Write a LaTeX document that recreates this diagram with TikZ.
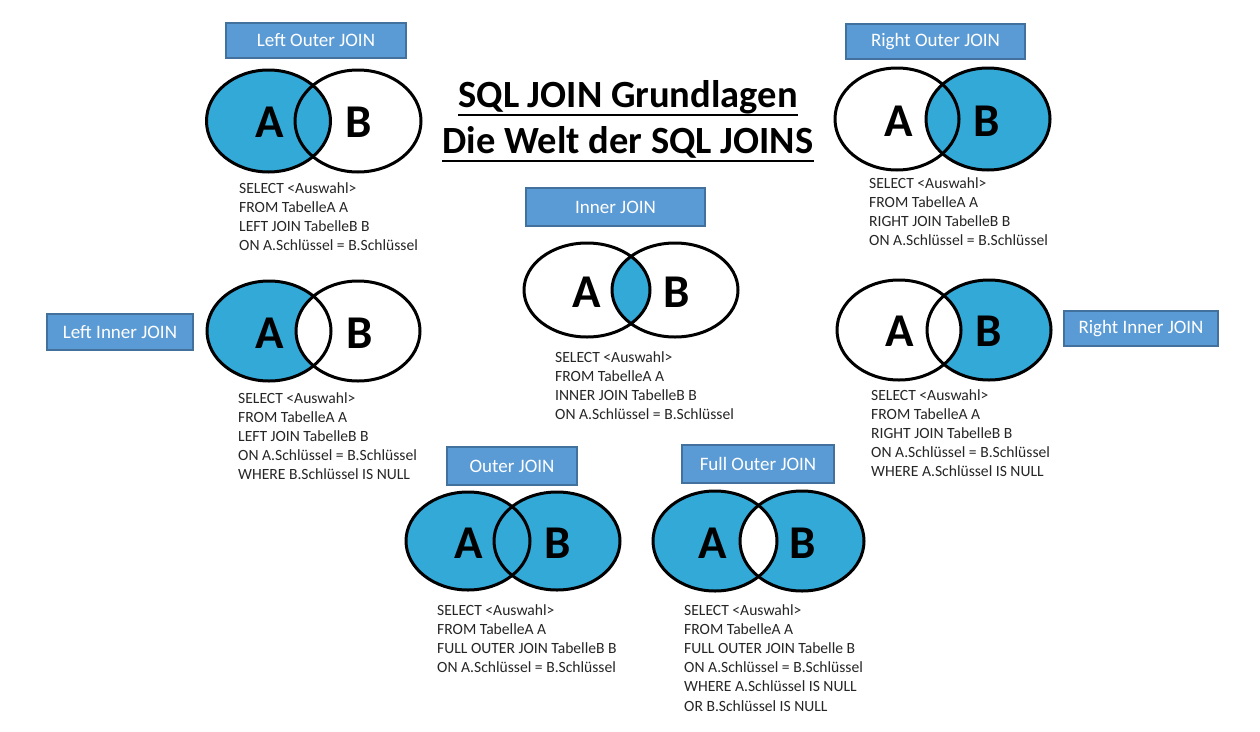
\documentclass[tikz,border=0pt]{standalone}
\usepackage{fontspec}
\setmainfont{Carlito}
\definecolor{boxfill}{HTML}{5B9BD5}
\definecolor{boxline}{HTML}{41719C}
\definecolor{vennblue}{HTML}{33A9D8}
\definecolor{codegray}{HTML}{262626}
\tikzset{
  lbl/.style={fill=boxfill, draw=boxline, line width=1.3pt, text=white, inner sep=0pt,
              font=\fontsize{19}{21}\selectfont},
  code/.style={text=codegray, inner sep=0pt, font=\fontsize{15.6}{19}\selectfont},
  vline/.style={line width=3pt, draw=black},
  letter/.style={inner sep=0pt, font=\fontsize{47}{49}\selectfont\bfseries},
  ttl/.style={inner sep=0pt, font=\fontsize{38.5}{44}\selectfont\bfseries},
}
\newcommand\codeblock[4]{%
  \foreach \ln [count=\i] in {#4} {
    \node[code, anchor=base west] (#1-\i) at (#2, {#3+19.2*(\i-1)}) {\ln};
  }}
\begin{document}
\begin{tikzpicture}[x=1pt, y=-1pt]
\useasboundingbox (0,0) rectangle (1260,731);
\fill[white] (0,0) rectangle (1260,731);

% ---------- Title
\node[ttl, anchor=base] (t1) at (628,107) {SQL JOIN Grundlagen};
\node[ttl, anchor=base] (t2) at (628,153) {Die Welt der SQL JOINS};
\draw[line width=2.5pt] ([yshift=-8pt]t1.base west) -- ([yshift=-8pt]t1.base east);
\draw[line width=2.5pt] ([yshift=-8pt]t2.base west) -- ([yshift=-8pt]t2.base east);

% ---------- Left Outer JOIN
\node[lbl, minimum width=180pt, minimum height=35pt] (loL) at (316,40.5) {Left Outer JOIN};
\fill[vennblue] (268.5,121) ellipse [x radius=62pt, y radius=51pt];
\draw[vline] (268.5,121) ellipse [x radius=62pt, y radius=51pt];
\draw[vline] (358,121) ellipse [x radius=63pt, y radius=51pt];
\node[letter] (loA) at (270,122) {A};
\node[letter] (loB) at (359,122) {B};
\codeblock{lo}{239}{193}{SELECT <Auswahl>,FROM TabelleA A,LEFT JOIN TabelleB B,ON A.Schlüssel = B.Schlüssel}

% ---------- Right Outer JOIN
\node[lbl, minimum width=179pt, minimum height=35pt] (roL) at (935.5,41.5) {Right Outer JOIN};
\fill[vennblue] (988,119) ellipse [x radius=62pt, y radius=51pt];
\draw[vline] (897,119) ellipse [x radius=62pt, y radius=51pt];
\draw[vline] (988,119) ellipse [x radius=62pt, y radius=51pt];
\node[letter] (roA) at (899,121) {A};
\node[letter] (roB) at (987,121) {B};
\codeblock{ro}{869}{188}{SELECT <Auswahl>,FROM TabelleA A,RIGHT JOIN TabelleB B,ON A.Schlüssel = B.Schlüssel}

% ---------- Inner JOIN
\node[lbl, minimum width=179pt, minimum height=38pt] (inL) at (615.5,207) {Inner JOIN};
\begin{scope}
  \clip (587,290) ellipse [x radius=63pt, y radius=47pt];
  \fill[vennblue] (675,290) ellipse [x radius=63pt, y radius=47pt];
\end{scope}
\draw[vline] (587,290) ellipse [x radius=63pt, y radius=47pt];
\draw[vline] (675,290) ellipse [x radius=63pt, y radius=47pt];
\node[letter] (inA) at (587,292) {A};
\node[letter] (inB) at (677,292) {B};
\codeblock{in}{555}{362}{SELECT <Auswahl>,FROM TabelleA A,INNER JOIN TabelleB B,ON A.Schlüssel = B.Schlüssel}

% ---------- Left Inner JOIN
\node[lbl, minimum width=146pt, minimum height=36pt] (liL) at (120,332) {Left Inner JOIN};
\fill[vennblue] (269,331) ellipse [x radius=62pt, y radius=50pt];
\fill[white] (358,331) ellipse [x radius=62pt, y radius=50pt];
\draw[vline] (269,331) ellipse [x radius=62pt, y radius=50pt];
\draw[vline] (358,331) ellipse [x radius=62pt, y radius=50pt];
\node[letter] (liA) at (270,333) {A};
\node[letter] (liB) at (360,333) {B};
\codeblock{li}{238}{403}{SELECT <Auswahl>,FROM TabelleA A,LEFT JOIN TabelleB B,ON A.Schlüssel = B.Schlüssel,WHERE B.Schlüssel IS NULL}

% ---------- Right Inner JOIN
\node[lbl, minimum width=154pt, minimum height=35pt] (riL) at (1141,328.5) {Right Inner JOIN};
\fill[vennblue] (989,330) ellipse [x radius=62pt, y radius=50pt];
\fill[white] (899,330) ellipse [x radius=62pt, y radius=50pt];
\draw[vline] (899,330) ellipse [x radius=62pt, y radius=50pt];
\draw[vline] (989,330) ellipse [x radius=62pt, y radius=50pt];
\node[letter] (riA) at (900,331) {A};
\node[letter] (riB) at (989,331) {B};
\codeblock{ri}{871}{400}{SELECT <Auswahl>,FROM TabelleA A,RIGHT JOIN TabelleB B,ON A.Schlüssel = B.Schlüssel,WHERE A.Schlüssel IS NULL}

% ---------- Outer JOIN
\node[lbl, minimum width=130pt, minimum height=38pt] (ouL) at (512,466) {Outer JOIN};
\fill[vennblue] (468,541) ellipse [x radius=62pt, y radius=49pt];
\fill[vennblue] (557,541) ellipse [x radius=63pt, y radius=49pt];
\draw[vline] (468,541) ellipse [x radius=62pt, y radius=49pt];
\draw[vline] (557,541) ellipse [x radius=63pt, y radius=49pt];
\node[letter] (ouA) at (469,543) {A};
\node[letter] (ouB) at (558,543) {B};
\codeblock{ou}{437}{615}{SELECT <Auswahl>,FROM TabelleA A,FULL OUTER JOIN TabelleB B,ON A.Schlüssel = B.Schlüssel}

% ---------- Full Outer JOIN
\node[lbl, minimum width=152pt, minimum height=38pt] (foL) at (758,464) {Full Outer JOIN};
\fill[vennblue] (715,541) ellipse [x radius=62pt, y radius=50pt];
\fill[vennblue] (802,541) ellipse [x radius=62pt, y radius=50pt];
\begin{scope}
  \clip (715,541) ellipse [x radius=62pt, y radius=50pt];
  \fill[white] (802,541) ellipse [x radius=62pt, y radius=50pt];
\end{scope}
\draw[vline] (715,541) ellipse [x radius=62pt, y radius=50pt];
\draw[vline] (802,541) ellipse [x radius=62pt, y radius=50pt];
\node[letter] (foA) at (713,543) {A};
\node[letter] (foB) at (803,543) {B};
\codeblock{fo}{684}{615}{SELECT <Auswahl>,FROM TabelleA A,FULL OUTER JOIN Tabelle B,ON A.Schlüssel = B.Schlüssel,WHERE A.Schlüssel IS NULL,OR B.Schlüssel IS NULL}
\end{tikzpicture}
\end{document}
